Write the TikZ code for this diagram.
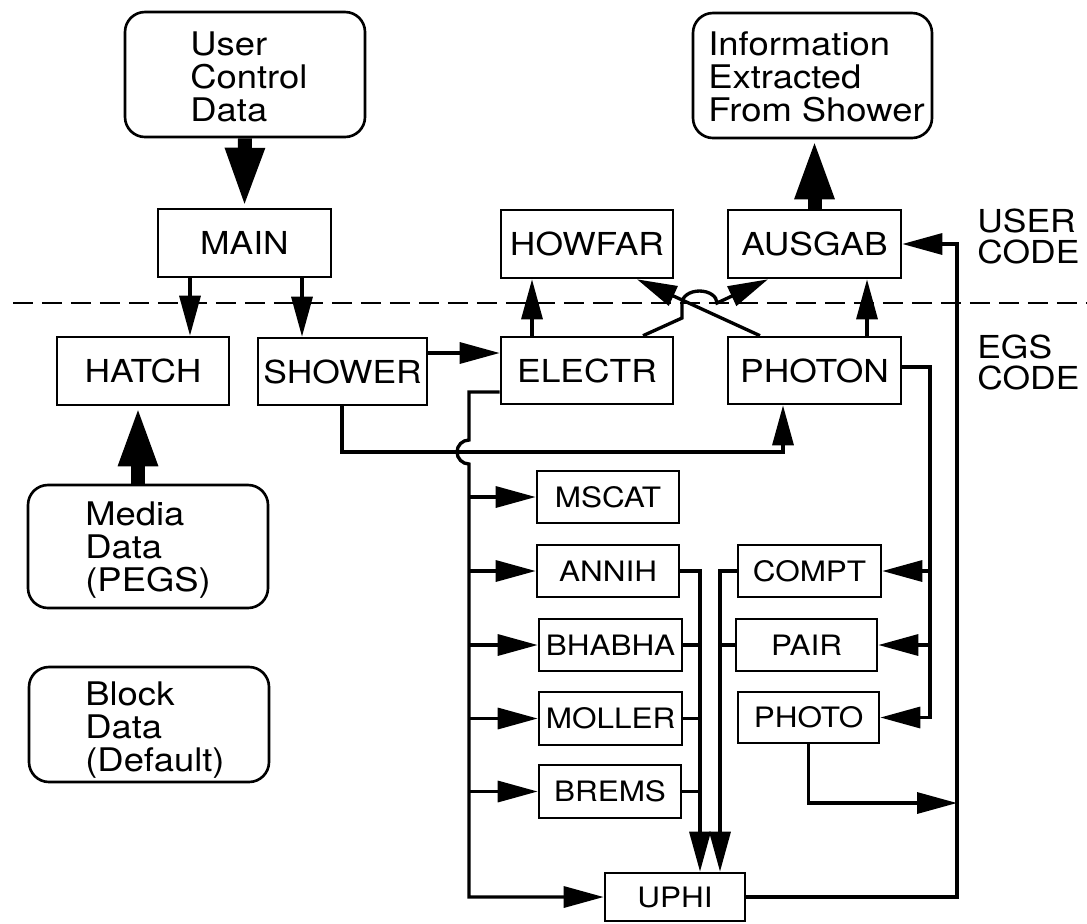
\documentclass[tikz,border=0pt]{standalone}
\usepackage{fontspec}
\setmainfont{TeX Gyre Heros}[FakeStretch=1.12]
\usetikzlibrary{arrows.meta,fit,calc}
\begin{document}
\begin{tikzpicture}[x=0.02cm,y=-0.02cm,
  box/.style={draw, line width=1.5pt, inner sep=0pt},
  rbox/.style={draw, line width=1.5pt, inner sep=0pt, rounded corners=0.4cm},
  lbl/.style={font=\fontsize{18}{18}\selectfont},
  slbl/.style={font=\fontsize{16}{16}\selectfont},
  mtxt/.style={font=\fontsize{18.5}{19}\selectfont, align=left, anchor=north west, inner sep=0pt},
  side/.style={font=\fontsize{18}{17.6}\selectfont, align=left, anchor=north west, inner sep=0pt},
  conn/.style={line width=1.9pt},
  arr/.style={conn, -{Triangle[length=0.8cm,width=0.42cm]}},
  big/.style={line width=0.28cm, -{Triangle[length=1.2cm,width=0.72cm]}},
  divider/.style={line width=1.3pt, dash pattern=on 0.4cm off 0.18cm},
]
\useasboundingbox (0,0) rectangle (1087,923);

% divider line
\coordinate (dL) at (13,303);
\coordinate (dR) at (1087,303);
\draw[divider] (dL) -- (dR);

% rounded data boxes
\node[rbox, fit={(125,12) (365,137)}] (ucd) {};
\node[mtxt] (ucdT) at (190,31) {User\\Control\\Data};
\node[rbox, fit={(693,13) (932,138)}] (info) {};
\node[mtxt] (infoT) at (708,31) {Information\\Extracted\\From Shower};
\node[rbox, fit={(28,485) (268,608)}] (media) {};
\node[mtxt] (mediaT) at (85,501) {Media\\Data\\(PEGS)};
\node[rbox, fit={(29,667) (269,782)}] (block) {};
\node[mtxt] (blockT) at (85,681) {Block\\Data\\(Default)};

% side labels
\node[side] (usercode) at (977,209) {USER\\CODE};
\node[side] (egscode) at (977,335) {EGS\\CODE};

% main boxes
\node[box, lbl, minimum width=3.46cm, minimum height=1.36cm] (main)   at (244.5,243)   {MAIN};
\node[box, lbl, minimum width=3.44cm, minimum height=1.36cm] (howfar) at (587,244)     {HOWFAR};
\node[box, lbl, minimum width=3.46cm, minimum height=1.36cm] (ausgab) at (814.5,244)   {AUSGAB};
\node[box, lbl, minimum width=3.44cm, minimum height=1.36cm] (hatch)  at (143,371)     {HATCH};
\node[box, lbl, minimum width=3.38cm, minimum height=1.34cm] (shower) at (342.5,371.5) {SHOWER};
\node[box, lbl, minimum width=3.44cm, minimum height=1.34cm] (electr) at (587,370.5)   {ELECTR};
\node[box, lbl, minimum width=3.46cm, minimum height=1.34cm] (photon) at (814.5,370.5) {PHOTON};

% subroutine boxes
\node[box, slbl, minimum width=2.84cm, minimum height=1.04cm] (mscat)  at (608,497)     {MSCAT};
\node[box, slbl, minimum width=2.84cm, minimum height=1.04cm] (annih)  at (608,571)     {ANNIH};
\node[box, slbl, minimum width=2.86cm, minimum height=1.04cm] (bhabha) at (610.5,645)   {BHABHA};
\node[box, slbl, minimum width=2.86cm, minimum height=1.06cm] (moller) at (610.5,718.5) {MOLLER};
\node[box, slbl, minimum width=2.84cm, minimum height=1.06cm] (brems)  at (610,791.5)   {BREMS};
\node[box, slbl, minimum width=2.86cm, minimum height=1.04cm] (compt)  at (809.5,571)   {COMPT};
\node[box, slbl, minimum width=2.82cm, minimum height=1.04cm] (pair)   at (806.5,645)   {PAIR};
\node[box, slbl, minimum width=2.82cm, minimum height=1.02cm] (photo)  at (808.5,717.5) {PHOTO};
\node[box, slbl, minimum width=2.80cm, minimum height=0.96cm] (uphi)   at (675,897)     {UPHI};

% helper coordinates
\coordinate (xM) at (138,0);
\coordinate (xA) at (190,0);
\coordinate (xB) at (302,0);
\coordinate (yS) at (0,353);
\coordinate (xS) at (342,0);
\coordinate (yH) at (0,452);
\coordinate (xP) at (783,0);
\coordinate (xEH) at (532,0);
\coordinate (xPA) at (867,0);
\coordinate (xPh1) at (760,0);
\coordinate (xPh2) at (637,0);
\coordinate (xE1) at (643,0);
\coordinate (j1) at (682,318);
\coordinate (j2) at (682,303);
\coordinate (xAu) at (768,0);
\coordinate (yEl) at (0,392);
\coordinate (vx) at (469,0);
\coordinate (jA) at (0,440);
\coordinate (xL) at (700,0);
\coordinate (xR) at (720,0);
\coordinate (yPh) at (0,367);
\coordinate (xP2) at (930,0);
\coordinate (xV) at (957,0);
\coordinate (yPo) at (0,803);

% thick data arrows
\draw[big] (ucd.south) -- (main.north);
\draw[big] (media.north -| xM) -- (hatch.south -| xM);
\draw[big] (ausgab.north) -- (info.south -| ausgab.north);

% MAIN calls
\draw[arr] (main.south -| xA) -- (hatch.north -| xA);
\draw[arr] (main.south -| xB) -- (shower.north -| xB);

% SHOWER calls
\draw[arr] (shower.east |- yS) -- (electr.west |- yS);
\draw[arr] (shower.south -| xS) |- (yH -| xP) -- (photon.south -| xP);

% ELECTR / PHOTON to user code
\draw[arr] (electr.north -| xEH) -- (howfar.south -| xEH);
\draw[arr] (photon.north -| xPA) -- (ausgab.south -| xPA);
\draw[arr] (photon.north -| xPh1) -- (howfar.south -| xPh2);
\draw[arr] (electr.north -| xE1) -- (j1) -- (j2)
   arc[start angle=180, end angle=0, x radius=0.35cm, y radius=0.24cm]
   -- (ausgab.south -| xAu);

% ELECTR branch line
\draw[arr] (electr.west |- yEl) -| (vx |- jA)
   arc[start angle=90, end angle=270, radius=0.24cm] |- (uphi.west);
\foreach \n in {mscat,annih,bhabha,moller,brems}
  \draw[arr] (vx |- \n.west) -- (\n.west);

% electron interactions to UPHI
\draw[arr] (annih.east) -| (xL |- uphi.north);
\foreach \n in {bhabha,moller,brems}
  \draw[conn] (\n.east) -- (\n.east -| xL);

% photon interactions to UPHI
\draw[arr] (compt.west) -| (xR |- uphi.north);
\draw[conn] (pair.west) -- (pair.west -| xR);

% PHOTON branch line
\draw[arr] (photon.east |- yPh) -| (xP2 |- photo.east) -- (photo.east);
\draw[arr] (xP2 |- compt.east) -- (compt.east);
\draw[arr] (xP2 |- pair.east) -- (pair.east);

% return to AUSGAB
\draw[arr] (photo.south) |- (xV |- yPo);
\draw[arr] (uphi.east) -| (xV |- ausgab.east) -- (ausgab.east);
\end{tikzpicture}
\end{document}
